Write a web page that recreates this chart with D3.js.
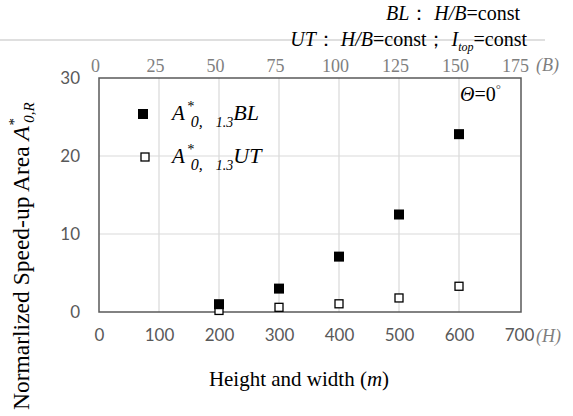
<!DOCTYPE html>
<html>
<head>
<meta charset="utf-8">
<script src="https://cdn.jsdelivr.net/npm/d3@7"></script>
<style>
  body { margin: 0; background: #fff; }
  .serif { font-family: "Liberation Serif", "DejaVu Serif", serif; }
  .sans { font-family: Lato, "Open Sans", sans-serif; }
</style>
</head>
<body>
<div id="chart"></div>
<script>
// data
const heights = [200, 300, 400, 500, 600];
const blValues = [1.0, 3.0, 7.1, 12.5, 22.8];
const utValues = [0.2, 0.6, 1.05, 1.8, 3.3];
const xTicks = [0, 100, 200, 300, 400, 500, 600, 700];
const bTicks = [0, 25, 50, 75, 100, 125, 150, 175];
const yTicks = [0, 10, 20, 30];

const W = 573, H = 416;
const box = { left: 99, right: 519, top: 78, bottom: 312 };

const svg = d3.select("#chart").append("svg")
  .attr("width", W).attr("height", H);

const x = d3.scaleLinear().domain([0, 700]).range([box.left, box.right]);
const xB = d3.scaleLinear().domain([0, 175]).range([box.left, box.right]);
const y = d3.scaleLinear().domain([0, 30]).range([box.bottom, box.top]);

// gridlines
const grid = svg.append("g");
grid.selectAll("line.v").data(xTicks.slice(1, -1)).enter().append("line")
  .attr("x1", d => x(d)).attr("x2", d => x(d))
  .attr("y1", box.top).attr("y2", box.bottom)
  .attr("stroke", "#d9d9d9").attr("stroke-width", 1.2);
grid.selectAll("line.h").data(yTicks.slice(1, -1)).enter().append("line")
  .attr("x1", box.left).attr("x2", box.right + 1)
  .attr("y1", d => y(d)).attr("y2", d => y(d))
  .attr("stroke", "#d9d9d9").attr("stroke-width", 1.2);

// top header line
svg.append("line")
  .attr("x1", 0).attr("x2", 545).attr("y1", 40).attr("y2", 40)
  .attr("stroke", "#bfbfbf").attr("stroke-width", 1);

// bottom axis
const xAxis = svg.append("g").attr("transform", `translate(0,${box.bottom})`)
  .call(d3.axisBottom(x).tickValues(xTicks).tickSize(0).tickPadding(17)
    .tickFormat(d => d));
xAxis.select(".domain").remove();
xAxis.selectAll("text").attr("class", "sans").attr("font-size", 17)
  .attr("fill", "#595959");
svg.append("text").attr("class", "serif")
  .attr("x", 536).attr("y", 342)
  .attr("font-size", 18).attr("font-style", "italic").attr("fill", "#7f7f7f")
  .text("(H)");

// top axis (B)
const xAxisTop = svg.append("g").attr("transform", `translate(-4,${box.top})`)
  .call(d3.axisTop(xB).tickValues(bTicks).tickSize(0).tickPadding(6));
xAxisTop.select(".domain").remove();
xAxisTop.selectAll("text").attr("class", "serif").attr("font-size", 18)
  .attr("fill", "#7f7f7f");
svg.append("text").attr("class", "serif")
  .attr("x", 536).attr("y", 71)
  .attr("font-size", 18).attr("font-style", "italic").attr("fill", "#7f7f7f")
  .text("(B)");

// left axis
const yAxis = svg.append("g").attr("transform", `translate(${box.left},0)`)
  .call(d3.axisLeft(y).tickValues(yTicks).tickSize(0).tickPadding(19));
yAxis.select(".domain").remove();
yAxis.selectAll("text").attr("class", "sans").attr("font-size", 17)
  .attr("fill", "#595959");

// plot border
svg.append("rect")
  .attr("x", box.left).attr("y", box.top)
  .attr("width", box.right + 2 - box.left).attr("height", box.bottom - box.top)
  .attr("fill", "none").attr("stroke", "#595959").attr("stroke-width", 1.5);

// series
svg.selectAll("rect.ut").data(heights).enter().append("rect")
  .attr("x", d => x(d) - 4).attr("y", (d, i) => y(utValues[i]) - 4)
  .attr("width", 8).attr("height", 8)
  .attr("fill", "#fff").attr("stroke", "#000").attr("stroke-width", 1.3);
svg.selectAll("rect.bl").data(heights).enter().append("rect")
  .attr("x", d => x(d) - 5).attr("y", (d, i) => y(blValues[i]) - 5)
  .attr("width", 10).attr("height", 10)
  .attr("fill", "#000");

// legend
svg.append("rect").attr("x", 138).attr("y", 109).attr("width", 10).attr("height", 10)
  .attr("fill", "#000");
svg.append("rect").attr("x", 141).attr("y", 153).attr("width", 8).attr("height", 8)
  .attr("fill", "#fff").attr("stroke", "#000").attr("stroke-width", 1.3);

function legendLabel(yPos, tag) {
  const t = svg.append("text").attr("class", "serif")
    .attr("x", 172).attr("y", yPos).attr("font-size", 21)
    .attr("font-style", "italic").attr("fill", "#000");
  t.append("tspan").text("A");
  t.append("tspan").attr("dy", -9).attr("dx", 2).attr("font-size", 14).text("*");
  t.append("tspan").attr("dy", 16).attr("dx", -3).attr("font-size", 16).text("0,");
  t.append("tspan").attr("dx", 13).attr("font-size", 14).text("1.3");
  t.append("tspan").attr("dy", -7).attr("font-size", 22).text(tag);
}
legendLabel(120, "BL");
legendLabel(163, "UT");

// theta label
const th = svg.append("text").attr("class", "serif")
  .attr("x", 460).attr("y", 101).attr("font-size", 20).attr("fill", "#000");
th.append("tspan").attr("font-style", "italic").text("Θ");
th.append("tspan").text("=0");
th.append("tspan").attr("font-size", 13).attr("dy", -8).attr("fill", "#595959").text("°");

// header notes
const h1 = svg.append("text").attr("class", "serif")
  .attr("x", 520).attr("y", 20).attr("text-anchor", "end")
  .attr("font-size", 20).attr("fill", "#000");
h1.append("tspan").attr("font-style", "italic").text("BL");
h1.append("tspan").text("：  ");
h1.append("tspan").attr("font-style", "italic").text("H/B");
h1.append("tspan").text("=const");

const h2 = svg.append("text").attr("class", "serif")
  .attr("x", 527).attr("y", 46).attr("text-anchor", "end")
  .attr("font-size", 20).attr("fill", "#000");
h2.append("tspan").attr("font-style", "italic").text("UT");
h2.append("tspan").text("：  ");
h2.append("tspan").attr("font-style", "italic").text("H/B");
h2.append("tspan").text("=const；  ");
h2.append("tspan").attr("font-style", "italic").text("I");
h2.append("tspan").attr("font-style", "italic").attr("font-size", 12).attr("dy", 5).text("top");
h2.append("tspan").attr("dy", -5).text("=const");

// axis titles
const xt = svg.append("text").attr("class", "serif")
  .attr("x", 299).attr("y", 386).attr("text-anchor", "middle")
  .attr("font-size", 21).attr("fill", "#000");
xt.append("tspan").text("Height  and width  (");
xt.append("tspan").attr("font-style", "italic").text("m");
xt.append("tspan").text(")");

const yt = svg.append("text").attr("class", "serif")
  .attr("transform", "translate(29,410) rotate(-90)")
  .attr("text-anchor", "start").attr("font-size", 23.5).attr("fill", "#000");
yt.append("tspan").text("Normarlized Speed-up Area ");
yt.append("tspan").attr("font-style", "italic").text("A");
yt.append("tspan").attr("font-style", "italic").attr("font-size", 15).attr("dy", -10).text("*");
yt.append("tspan").attr("font-style", "italic").attr("font-size", 15).attr("dy", 15).attr("dx", -4).text("0,R");
</script>
</body>
</html>
